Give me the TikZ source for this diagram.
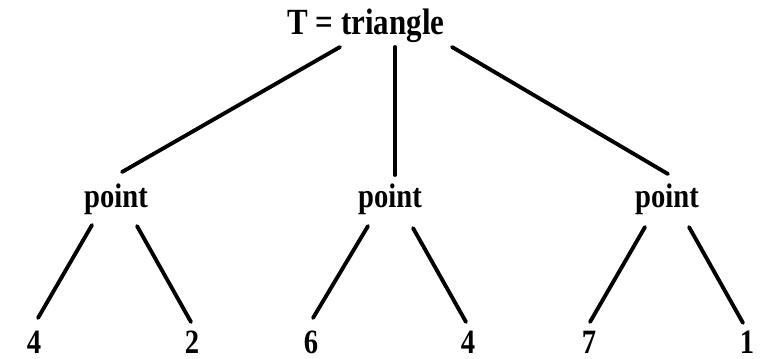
\documentclass[tikz,border=0pt]{standalone}
\usepackage{fontspec}
\newfontfamily\treefont[FakeStretch=0.84]{Liberation Serif}
\usetikzlibrary{positioning}
\tikzset{
  tnode/.style={inner sep=0pt,anchor=base,text=black,
    font=\treefont\bfseries\fontsize{19.4}{22}\selectfont},
  top node/.style={tnode,font=\treefont\bfseries\fontsize{21}{24}\selectfont},
  edge/.style={draw=black,line width=2.2pt,line cap=round},
}
\begin{document}
\begin{tikzpicture}[x=0.02cm,y=-0.02cm]
    \useasboundingbox (0,0) rectangle (763,358);
    % root and the three points
    \node[top node] (t) at (366,35) {T = triangle};
    \node[tnode] (p1) at (116,207) {point};
    \node[tnode] (p2) at (390,207) {point};
    \node[tnode] (p3) at (667,207) {point};
    % leaves
    \node[tnode] (l1) at (34,353) {4};
    \node[tnode] (l2) at (192,353) {2};
    \node[tnode] (l3) at (311,353) {6};
    \node[tnode] (l4) at (468,353) {4};
    \node[tnode] (l5) at (589,353) {7};
    \node[tnode] (l6) at (747,353) {1};
    \draw[edge] ([shift={(-26,12)}]t.base) -- ([shift={(6,-35)}]p1.base);
    \draw[edge] ([shift={(29,12)}]t.base) -- ([shift={(5,-32)}]p2.base);
    \draw[edge] ([shift={(86,12)}]t.base) -- ([shift={(1,-33)}]p3.base);
    \draw[edge] ([shift={(-24,18)}]p1.base) -- ([shift={(4,-35)}]l1.base);
    \draw[edge] ([shift={(21,19)}]p1.base) -- ([shift={(-1,-31)}]l2.base);
    \draw[edge] ([shift={(-22,19)}]p2.base) -- ([shift={(2,-35)}]l3.base);
    \draw[edge] ([shift={(23,21)}]p2.base) -- ([shift={(-2,-31)}]l4.base);
    \draw[edge] ([shift={(-22,20)}]p3.base) -- ([shift={(1,-31)}]l5.base);
    \draw[edge] ([shift={(22,20)}]p3.base) -- ([shift={(-4,-30)}]l6.base);
  \end{tikzpicture}
\end{document}
